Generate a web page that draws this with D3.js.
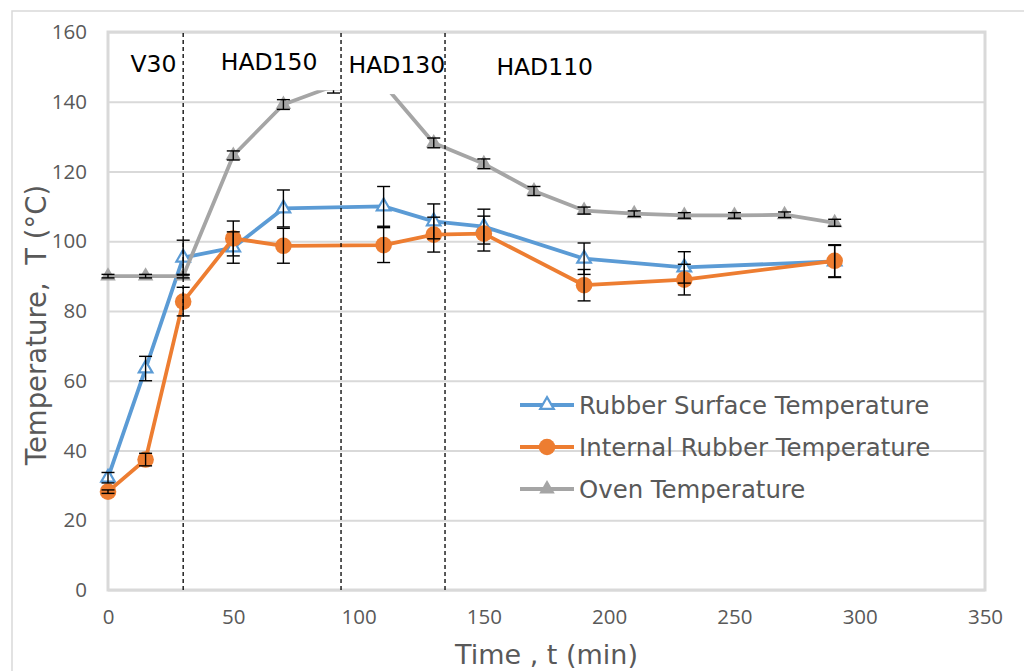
<!DOCTYPE html>
<html>
<head>
<meta charset="utf-8">
<script src="https://cdn.jsdelivr.net/npm/d3@7"></script>
<style>
  html, body { margin: 0; padding: 0; background: #fff; }
  svg { display: block; }
</style>
</head>
<body>
<svg id="chart" width="1024" height="671"></svg>
<script>
// ---------------- DATA ----------------
const surfaceTime = [0, 15, 30, 50, 70, 110, 130, 150, 190, 230, 290];
const surfaceTemp = [32.2, 63.5, 95.3, 98.2, 109.4, 110.0, 105.7, 104.2, 95.0, 92.5, 94.2];
const surfaceErr  = [1.5, 3.5, 5.0, 4.5, 5.3, 5.7, 5.0, 5.0, 4.5, 4.5, 4.6];

const internalTime = [0, 15, 30, 50, 70, 110, 130, 150, 190, 230, 290];
const internalTemp = [28.2, 37.4, 82.7, 100.8, 98.7, 98.9, 101.9, 102.2, 87.4, 89.0, 94.4];
const internalErr  = [0.5, 1.8, 4.1, 5.0, 5.0, 5.0, 5.0, 5.0, 4.5, 4.4, 4.6];

const ovenTime = [0, 15, 30, 50, 70, 90, 110, 130, 150, 170, 190, 210, 230, 250, 270, 290];
const ovenTemp = [90.0, 90.0, 90.0, 124.6, 139.2, 144.5, 145.0, 128.2, 122.2, 114.4, 108.8, 107.9, 107.4, 107.4, 107.6, 105.3];
const ovenErr  = [0.5, 0.5, 0.5, 1.3, 1.4, 2.0, 1.5, 1.4, 1.4, 1.3, 1.0, 0.8, 0.8, 0.8, 0.8, 1.0];

const seriesNames = ["Rubber Surface Temperature", "Internal Rubber Temperature", "Oven Temperature"];

const xTicks = [0, 50, 100, 150, 200, 250, 300, 350];
const yTicks = [0, 20, 40, 60, 80, 100, 120, 140, 160];

// phase boundaries (dashed lines) and phase labels
const phaseBoundaries = [30, 93, 134.5];
const phaseLabels = ["V30", "HAD150", "HAD130", "HAD110"];
const phaseLabelTimes = [9, 45, 96, 155];
const phaseLabelTemps = [148.5, 149, 148.3, 147.6];

// ---------------- LAYOUT ----------------
const svg = d3.select("#chart");
const L = 108, R = 985, T = 32, B = 590;
const x = d3.scaleLinear().domain([0, 350]).range([L, R]);
const y = d3.scaleLinear().domain([0, 160]).range([B, T]);

const blue = "#5B9BD5", orange = "#ED7D31", gray = "#A5A5A5";
const grid = "#D9D9D9", textCol = "#595959";
const tickFont = "'Open Sans', 'Liberation Sans', sans-serif";
const mainFont = "'DejaVu Sans', Verdana, sans-serif";
const lw = 3.8;

// outer chart border
svg.append("rect").attr("x", 12).attr("y", 11).attr("width", 1030).attr("height", 680)
  .attr("fill", "none").attr("stroke", grid).attr("stroke-width", 1.5);

// gridlines
const gAxisY = svg.append("g").attr("transform", `translate(${L},0)`)
  .call(d3.axisLeft(y).tickValues(yTicks).tickSize(-(R - L)).tickFormat(d3.format("d")).tickPadding(21));
gAxisY.select(".domain").remove();
gAxisY.selectAll(".tick line").attr("stroke", grid).attr("stroke-width", 2);
gAxisY.selectAll(".tick text").attr("fill", textCol).style("font-family", tickFont).style("font-size", "20.5px");

const gAxisX = svg.append("g").attr("transform", `translate(0,${B})`)
  .call(d3.axisBottom(x).tickValues(xTicks).tickSize(0).tickFormat(d3.format("d")).tickPadding(19));
gAxisX.select(".domain").remove();
gAxisX.selectAll(".tick text").attr("fill", textCol).style("font-family", tickFont).style("font-size", "20.5px");

// plot area border
svg.append("rect").attr("x", L).attr("y", T).attr("width", R - L).attr("height", B - T)
  .attr("fill", "none").attr("stroke", grid).attr("stroke-width", 3);

// ---------------- SERIES ----------------
const line = d3.line().x(d => x(d[0])).y(d => y(d[1]));
const zip = (a, b) => a.map((v, i) => [v, b[i]]);

const surf = zip(surfaceTime, surfaceTemp);
const intl = zip(internalTime, internalTemp);
const oven = zip(ovenTime, ovenTemp);

const triSmall = d3.symbol().type(d3.symbolTriangle).size(80);
const triFill = d3.symbol().type(d3.symbolTriangle).size(105);

// blue
svg.append("path").attr("d", line(surf)).attr("fill", "none").attr("stroke", blue).attr("stroke-width", lw).attr("stroke-linejoin", "round");
svg.append("g").selectAll("path").data(surf).join("path")
  .attr("d", triSmall).attr("transform", d => `translate(${x(d[0])},${y(d[1])})`)
  .attr("fill", "#fff").attr("stroke", blue).attr("stroke-width", 2.2);
// orange
svg.append("path").attr("d", line(intl)).attr("fill", "none").attr("stroke", orange).attr("stroke-width", lw).attr("stroke-linejoin", "round");
svg.append("g").selectAll("circle").data(intl).join("circle")
  .attr("cx", d => x(d[0])).attr("cy", d => y(d[1])).attr("r", 8.3).attr("fill", orange);
// gray
svg.append("path").attr("d", line(oven)).attr("fill", "none").attr("stroke", gray).attr("stroke-width", lw).attr("stroke-linejoin", "round");
svg.append("g").selectAll("path").data(oven).join("path")
  .attr("d", triFill).attr("transform", d => `translate(${x(d[0])},${y(d[1])})`)
  .attr("fill", gray);

// error bars
function errBars(times, vals, errs) {
  const g = svg.append("g").attr("stroke", "#000").attr("stroke-width", 1.4);
  times.forEach((t, i) => {
    const cx = x(t), y1 = y(vals[i] + errs[i]), y2 = y(vals[i] - errs[i]);
    g.append("line").attr("x1", cx).attr("x2", cx).attr("y1", y1).attr("y2", y2);
    g.append("line").attr("x1", cx - 6.5).attr("x2", cx + 6.5).attr("y1", y1).attr("y2", y1);
    g.append("line").attr("x1", cx - 6.5).attr("x2", cx + 6.5).attr("y1", y2).attr("y2", y2);
  });
}
errBars(surfaceTime, surfaceTemp, surfaceErr);
errBars(internalTime, internalTemp, internalErr);
errBars(ovenTime, ovenTemp, ovenErr);

// ---------------- ANNOTATIONS ----------------
// white text boxes (cover the top of the plot, as in the original)
svg.append("rect").attr("x", x(0) + 2).attr("y", T + 2)
  .attr("width", x(phaseBoundaries[1]) - x(0) - 2).attr("height", y(143.3) - T - 2).attr("fill", "#fff");
svg.append("rect").attr("x", x(phaseBoundaries[1])).attr("y", T + 2)
  .attr("width", x(phaseBoundaries[2]) - x(phaseBoundaries[1])).attr("height", y(142.2) - T - 2).attr("fill", "#fff");

// dashed phase boundaries
svg.append("g").selectAll("line").data(phaseBoundaries).join("line")
  .attr("x1", d => x(d)).attr("x2", d => x(d)).attr("y1", T + 1).attr("y2", B)
  .attr("stroke", "#000").attr("stroke-width", 1.3).attr("stroke-dasharray", "4,3");

// phase labels
svg.append("g").selectAll("text").data(phaseLabels).join("text")
  .attr("x", (d, i) => x(phaseLabelTimes[i])).attr("y", (d, i) => y(phaseLabelTemps[i]))
  .attr("fill", "#000").style("font-family", mainFont).style("font-size", "23.5px")
  .text(d => d);

// axis titles
svg.append("text").attr("x", (L + R) / 2).attr("y", 664).attr("text-anchor", "middle")
  .attr("fill", textCol).style("font-family", mainFont).style("font-size", "27px")
  .text("Time , t (min)");
svg.append("text").attr("transform", `translate(46,${(T + B) / 2 + 14}) rotate(-90)`)
  .attr("text-anchor", "middle").attr("fill", textCol)
  .style("font-family", mainFont).style("font-size", "27.5px").style("white-space", "pre")
  .text("Temperature,  T (°C)");

// ---------------- LEGEND ----------------
const legColors = [blue, orange, gray];
const legRows = [405, 447, 489];
const leg = svg.append("g");
seriesNames.forEach((name, i) => {
  const cy = legRows[i];
  leg.append("line").attr("x1", 520).attr("x2", 574).attr("y1", cy).attr("y2", cy)
    .attr("stroke", legColors[i]).attr("stroke-width", lw);
  if (i === 0) {
    leg.append("path").attr("d", triSmall).attr("transform", `translate(547,${cy})`)
      .attr("fill", "#fff").attr("stroke", blue).attr("stroke-width", 2.2);
  } else if (i === 1) {
    leg.append("circle").attr("cx", 547).attr("cy", cy).attr("r", 8.3).attr("fill", orange);
  } else {
    leg.append("path").attr("d", triFill).attr("transform", `translate(547,${cy})`).attr("fill", gray);
  }
  leg.append("text").attr("x", 579).attr("y", cy + 8.5).attr("fill", textCol)
    .style("font-family", mainFont).style("font-size", "24.4px").text(name);
});
</script>
</body>
</html>
